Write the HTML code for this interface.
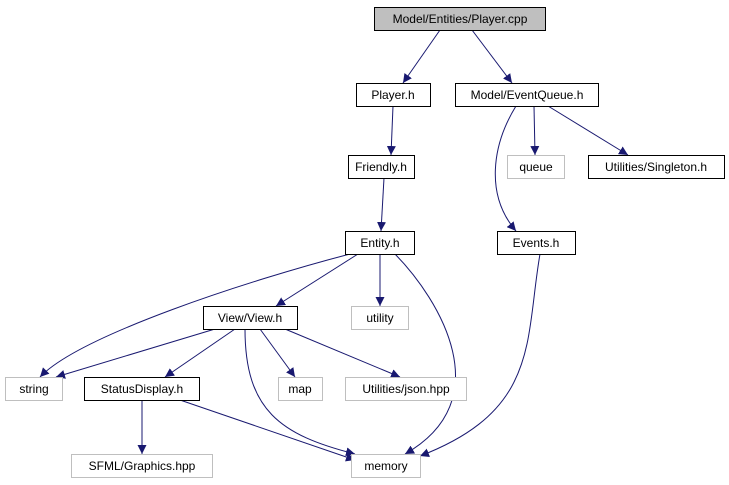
<!DOCTYPE html>
<html><head><meta charset="utf-8"><style>
html,body{margin:0;padding:0;background:#fff;}
svg{display:block;}
text{font-family:"Liberation Sans",sans-serif;font-size:12px;text-anchor:middle;}
</style></head><body>
<svg width="729" height="485" viewBox="0 0 729 485" xmlns="http://www.w3.org/2000/svg">
<defs><marker id="a" viewBox="0 0 10 10" refX="10" refY="5" markerWidth="9" markerHeight="9" markerUnits="userSpaceOnUse" orient="auto"><path d="M0,0 L10,5 L0,10 z" fill="#191970"/></marker></defs>
<g fill="none" stroke="#191970" stroke-width="1" marker-end="url(#a)">
<path d="M440,30 L403,83"/>
<path d="M472,30 L512,83"/>
<path d="M393,106 L391,155"/>
<path d="M384,178 L381,231"/>
<path d="M534,106 L535,155"/>
<path d="M548,106 L628,155"/>
<path d="M516,106 C492,145 485,195 516,231"/>
<path d="M380,254 L380,306"/>
<path d="M358,254 L276,306"/>
<path d="M350,254 C250,280 80,335 40,377"/>
<path d="M395,254 C440,300 500,400 405,454"/>
<path d="M540,254 C525,340 540,410 420,456"/>
<path d="M215,329 L56,377"/>
<path d="M235,329 L165,377"/>
<path d="M260,329 L295,377"/>
<path d="M285,329 L400,377"/>
<path d="M245,329 C245,410 280,435 355,454"/>
<path d="M142,400 L142,454"/>
<path d="M180,400 L355,460"/>
</g>
<g stroke-width="1">
<rect x="374.5" y="7.5" width="171" height="23" fill="#bfbfbf" stroke="#000"/>
<rect x="356.5" y="83.5" width="74" height="23" fill="#fff" stroke="#000"/>
<rect x="455.5" y="83.5" width="143" height="23" fill="#fff" stroke="#000"/>
<rect x="348.5" y="155.5" width="66" height="23" fill="#fff" stroke="#000"/>
<rect x="507.5" y="155.5" width="57" height="23" fill="#fff" stroke="#bfbfbf"/>
<rect x="588.5" y="155.5" width="136" height="23" fill="#fff" stroke="#000"/>
<rect x="345.5" y="231.5" width="69" height="23" fill="#fff" stroke="#000"/>
<rect x="497.5" y="231.5" width="78" height="23" fill="#fff" stroke="#000"/>
<rect x="351.5" y="306.5" width="57" height="23" fill="#fff" stroke="#bfbfbf"/>
<rect x="203.5" y="306.5" width="94" height="23" fill="#fff" stroke="#000"/>
<rect x="5.5" y="377.5" width="57" height="23" fill="#fff" stroke="#bfbfbf"/>
<rect x="84.5" y="377.5" width="115" height="23" fill="#fff" stroke="#000"/>
<rect x="278.5" y="377.5" width="44" height="23" fill="#fff" stroke="#bfbfbf"/>
<rect x="345.5" y="377.5" width="121" height="23" fill="#fff" stroke="#bfbfbf"/>
<rect x="71.5" y="454.5" width="141" height="23" fill="#fff" stroke="#bfbfbf"/>
<rect x="351.5" y="454.5" width="69" height="23" fill="#fff" stroke="#bfbfbf"/>
</g>
<g fill="#000">
<text x="460" y="23">Model/Entities/Player.cpp</text>
<text x="393" y="99">Player.h</text>
<text x="527" y="99">Model/EventQueue.h</text>
<text x="381" y="171">Friendly.h</text>
<text x="536" y="171">queue</text>
<text x="656" y="171">Utilities/Singleton.h</text>
<text x="380" y="247">Entity.h</text>
<text x="536" y="247">Events.h</text>
<text x="380" y="322">utility</text>
<text x="250" y="322">View/View.h</text>
<text x="34" y="393">string</text>
<text x="142" y="393">StatusDisplay.h</text>
<text x="300" y="393">map</text>
<text x="406" y="393">Utilities/json.hpp</text>
<text x="142" y="470">SFML/Graphics.hpp</text>
<text x="386" y="470">memory</text>
</g>
</svg>
</body></html>
